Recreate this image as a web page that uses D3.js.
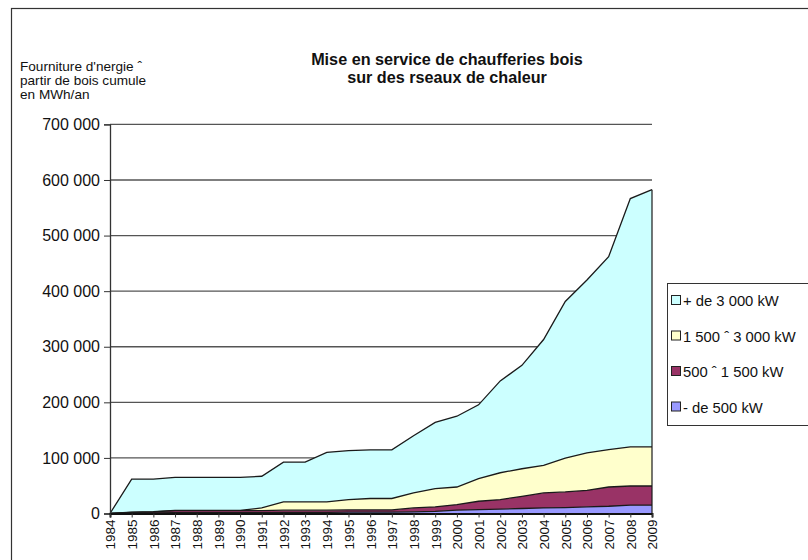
<!DOCTYPE html>
<html><head><meta charset="utf-8">
<script src="https://cdn.jsdelivr.net/npm/d3@7"></script>
<style>body{margin:0;background:#fff;} text{font-family:"Liberation Sans",Arial,sans-serif;}</style>
</head><body><svg id="c" width="808" height="560"></svg>
<script>
const years = [1984,1985,1986,1987,1988,1989,1990,1991,1992,1993,1994,1995,1996,1997,1998,1999,2000,2001,2002,2003,2004,2005,2006,2007,2008,2009];
const moins500 = [0,1000,1000,1500,1500,1500,1500,1500,2000,2000,2000,2500,2500,2500,3000,4000,6000,7000,8000,9000,10000,10700,12000,13000,15000,15000];
const de500a1500 = [0,1000,2000,3500,3500,3500,3500,3500,4000,4000,4000,4000,4000,4000,7000,8000,10000,15000,17000,22000,27000,28100,29700,34700,34500,34500];
const de1500a3000 = [0,500,500,500,500,500,500,5000,15000,15000,15000,18500,20500,20500,27000,32700,31700,40600,48300,49500,49400,60800,67300,67300,70500,70500];
const plus3000 = [0,59500,58500,59500,59500,59500,59500,57000,71500,71500,89000,88000,87500,87500,103000,119300,127300,132900,165200,186000,226600,281900,311000,347000,446500,462600];
const yTicks = [0,100000,200000,300000,400000,500000,600000,700000];
const seriesNames = ["- de 500 kW","500 \u02c6 1 500 kW","1 500 \u02c6 3 000 kW","+ de 3 000 kW"];
const seriesColors = ["#9999ff","#993366","#ffffcc","#ccffff"];
const titleLines = ["Mise en service de chaufferies bois","sur des rseaux de chaleur"];
const yTitleLines = ["Fourniture d'nergie \u02c6","partir de bois cumule","en MWh/an"];

const svg = d3.select("#c");
svg.append("rect").attr("x",11.5).attr("y",8.5).attr("width",810).attr("height",560).attr("fill","none").attr("stroke","#333").attr("stroke-width",1.2);

const x0=110, x1=652, yTop=124.4, yBot=513.5;
const x = d3.scaleLinear().domain([d3.min(years), d3.max(years)]).range([x0,x1]);
const y = d3.scaleLinear().domain([0,700000]).range([yBot,yTop]);
const fmt = v => d3.format(",")(v).replace(/,/g," ");

svg.append("g").selectAll("line").data(yTicks.filter(d=>d>0)).join("line")
  .attr("x1",x0).attr("x2",x1).attr("y1",d=>y(d)).attr("y2",d=>y(d))
  .attr("stroke","#555").attr("stroke-width",1.3);

const table = years.map((yr,i)=>({year:yr, s0:moins500[i], s1:de500a1500[i], s2:de1500a3000[i], s3:plus3000[i]}));
const layers = d3.stack().keys(["s0","s1","s2","s3"])(table);
const area = d3.area().x(d=>x(d.data.year)).y0(d=>y(d[0])).y1(d=>y(d[1]));
const line = d3.line().x(d=>x(d.data.year)).y(d=>y(d[1]));
svg.append("g").selectAll("path").data(layers).join("path").attr("d",area).attr("fill",(d,i)=>seriesColors[i]);
svg.append("g").selectAll("path").data(layers).join("path")
  .attr("d",line).attr("fill","none").attr("stroke","#1a1a1a").attr("stroke-width",1.3);
svg.append("line").attr("x1",x1).attr("x2",x1).attr("y1",y(0)).attr("y2",y(layers[3][layers[3].length-1][1])).attr("stroke","#1a1a1a").attr("stroke-width",1.2);

const gy = svg.append("g").attr("transform",`translate(${x0},0)`)
  .call(d3.axisLeft(y).tickValues(yTicks).tickFormat(fmt).tickSize(6).tickPadding(4));
gy.select(".domain").attr("stroke","#333").attr("stroke-width",1.3);
gy.selectAll(".tick line").attr("stroke","#333");
gy.selectAll("text").attr("font-size",16).attr("fill","#111");

const gx = svg.append("g").attr("transform",`translate(0,${yBot})`)
  .call(d3.axisBottom(x).tickValues(years).tickFormat(d3.format("d")).tickSize(4).tickPadding(3));
gx.select(".domain").attr("stroke","#111").attr("stroke-width",2);
gx.selectAll(".tick line").attr("stroke","#333");
gx.selectAll("text").attr("font-size",13.5).attr("fill","#111")
  .attr("transform","rotate(-90)").attr("text-anchor","end").attr("dy","0.36em").attr("y",0).attr("x",-6);

svg.append("text").attr("text-anchor","middle").attr("font-weight","bold").attr("font-size",16.2).attr("fill","#111")
  .selectAll("tspan").data(titleLines).join("tspan").attr("x",447).attr("y",(d,i)=>65+i*18).text(d=>d);

svg.append("text").attr("font-size",13.6).attr("fill","#111")
  .selectAll("tspan").data(yTitleLines).join("tspan").attr("x",20).attr("y",(d,i)=>71+i*13.8).text(d=>d);

const lg = svg.append("g");
lg.append("rect").attr("x",667.5).attr("y",283.5).attr("width",160).attr("height",142).attr("fill","#fff").attr("stroke","#333").attr("stroke-width",1);
[3,2,1,0].forEach((k,i)=>{
  const yy = 301 + i*35.5;
  lg.append("rect").attr("x",671.5).attr("y",yy-5.5).attr("width",9).attr("height",9).attr("fill",seriesColors[k]).attr("stroke","#222");
  lg.append("text").attr("x",683).attr("y",yy+5).attr("font-size",14.8).attr("fill","#111").text(seriesNames[k]);
});
</script></body></html>
